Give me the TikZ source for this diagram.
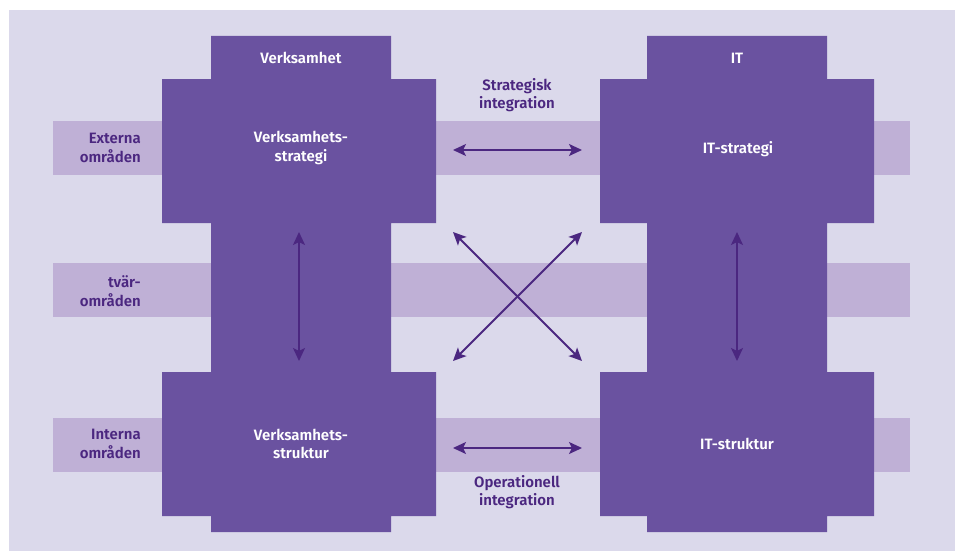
\documentclass[tikz,border=0pt]{standalone}
\usepackage{fontspec}
\setmainfont{Fira Sans}[BoldFont={Fira Sans SemiBold}]
\usetikzlibrary{arrows.meta}
\definecolor{bgc}{HTML}{DBD9EB}
\definecolor{bandc}{HTML}{BFB0D6}
\definecolor{blockc}{HTML}{6A52A0}
\definecolor{inkc}{HTML}{4B2780}
\tikzset{
  band/.style={fill=bandc},
  block/.style={fill=blockc},
  lbl/.style={font=\bfseries\fontsize{15}{18.5}\selectfont, align=center, inner sep=0pt},
  whitelbl/.style={lbl, text=white},
  darklbl/.style={lbl, text=inkc},
  sidelbl/.style={lbl, text=inkc, align=right, anchor=east},
  link/.style={draw=inkc, line width=1.8pt,
    {Stealth[length=13pt,width=12pt,inset=3pt]}-{Stealth[length=13pt,width=12pt,inset=3pt]}},
}
\begin{document}
\begin{tikzpicture}[x=1pt,y=-1pt]
  \useasboundingbox (0,0) rectangle (955,551);
  % background panel
  \fill[bgc] (9,10) rectangle (955,551);
  % horizontal bands
  \fill[band] (53,121) rectangle (910,175);
  \fill[band] (53,263) rectangle (910,317);
  \fill[band] (53,418) rectangle (910,472);
  % business column
  \fill[block] (211,36) -- (391,36) -- (391,79) -- (436,79) -- (436,223) -- (391,223)
    -- (391,372) -- (436,372) -- (436,516) -- (391,516) -- (391,532) -- (211,532)
    -- (211,516) -- (162,516) -- (162,372) -- (211,372) -- (211,223) -- (162,223)
    -- (162,79) -- (211,79) -- cycle;
  % IT column
  \fill[block] (647,36) -- (827,36) -- (827,79) -- (874,79) -- (874,223) -- (827,223)
    -- (827,372) -- (874,372) -- (874,516) -- (827,516) -- (827,532) -- (647,532)
    -- (647,516) -- (600,516) -- (600,372) -- (647,372) -- (647,223) -- (600,223)
    -- (600,79) -- (647,79) -- cycle;

  % labels
  \node[whitelbl] (vh) at (301,58) {Verksamhet};
  \node[whitelbl] (it) at (737,58) {IT};
  \node[whitelbl] (vs) at (301,148) {Verksamhets-\\strategi};
  \node[whitelbl] (its) at (738,149) {IT-strategi};
  \node[whitelbl] (vst) at (301,444) {Verksamhets-\\struktur};
  \node[whitelbl] (itst) at (737,444) {IT-struktur};
  \node[darklbl] (si) at (517,95) {Strategisk\\integration};
  \node[darklbl] (oi) at (517,492) {Operationell\\integration};
  \node[sidelbl] (ext) at (141,148) {Externa\\områden};
  \node[sidelbl] (tvr) at (141,291) {tvär-\\områden};
  \node[sidelbl] (int) at (141,444) {Interna\\områden};

  % arrow end points
  \coordinate (sl) at (453,150);
  \coordinate (sr) at (582,150);
  \coordinate (ol) at (453,448);
  \coordinate (or) at (582,448);
  \coordinate (ctl) at (453,232);
  \coordinate (ctr) at (582,232);
  \coordinate (cbl) at (453,361);
  \coordinate (cbr) at (582,361);
  \coordinate (vt) at (299,232);
  \coordinate (vb) at (299,361);
  \coordinate (it1) at (737,232);
  \coordinate (it2) at (737,361);

  % integration arrows
  \draw[link] (sl) -- (sr);
  \draw[link] (ol) -- (or);
  \draw[link] (ctl) -- (cbr);
  \draw[link] (ctr) -- (cbl);
  \draw[link] (vt) -- (vb);
  \draw[link] (it1) -- (it2);
\end{tikzpicture}
\end{document}
